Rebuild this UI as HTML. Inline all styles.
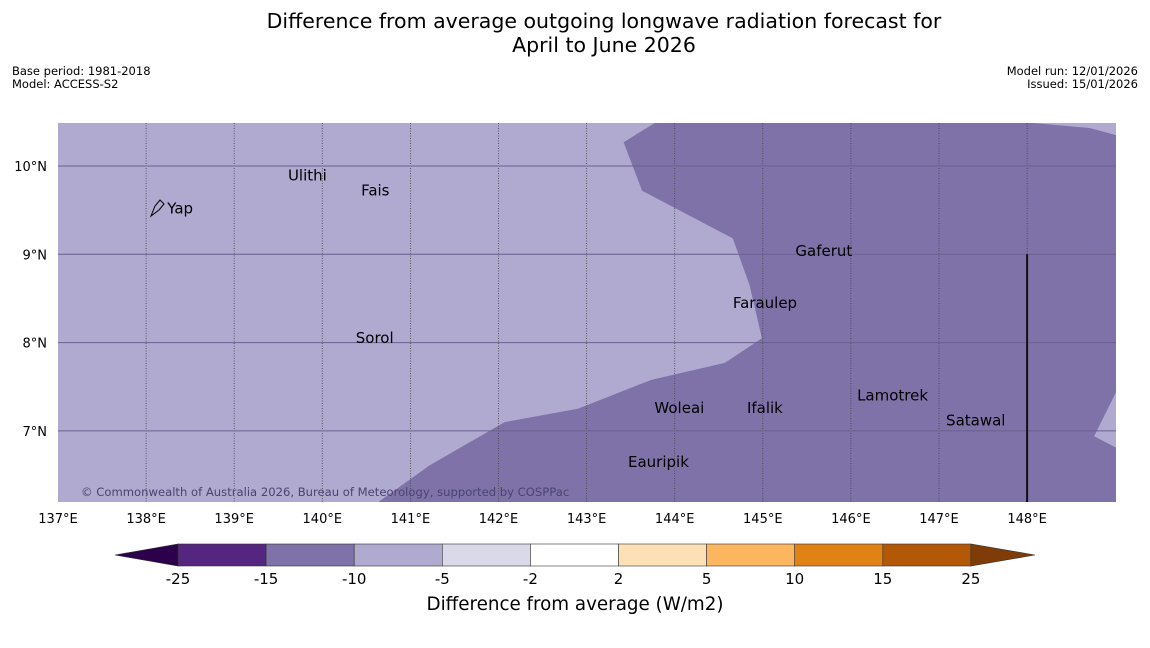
<!DOCTYPE html>
<html><head><meta charset="utf-8">
<style>
body{margin:0;background:#fff;font-family:"DejaVu Sans","Liberation Sans",sans-serif;}
svg text{font-family:"DejaVu Sans","Liberation Sans",sans-serif;}
</style></head>
<body>
<svg id="chart" width="1150" height="644" viewBox="0 0 1150 644" xmlns="http://www.w3.org/2000/svg">
<text x="604" y="28" font-size="20.5" text-anchor="middle">Difference from average outgoing longwave radiation forecast for</text>
<text x="604" y="52" font-size="20.5" text-anchor="middle">April to June 2026</text>
<text x="12" y="75" font-size="11.5">Base period: 1981-2018</text>
<text x="12" y="88" font-size="11.5">Model: ACCESS-S2</text>
<text x="1138" y="75" font-size="11.5" text-anchor="end">Model run: 12/01/2026</text>
<text x="1138" y="88" font-size="11.5" text-anchor="end">Issued: 15/01/2026</text>
<g id="map"></g>
<g id="cbar"></g>
<text x="575" y="610" font-size="18.3" text-anchor="middle">Difference from average (W/m2)</text>
</svg>
<script>
const lonTicks=[137,138,139,140,141,142,143,144,145,146,147,148];
const latTicks=[7,8,9,10];
const anomalyLon=[143.78,143.42,143.63,144.66,144.85,144.99,144.57,143.74,142.90,142.07,141.22,140.63,149.01,149.01,148.76,149.01,149.01,148.71,148.03];
const anomalyLat=[10.49,10.27,9.72,9.18,8.65,8.05,7.77,7.58,7.25,7.10,6.61,6.19,6.19,6.81,6.94,7.44,10.35,10.43,10.49];
const placeNames=["Yap","Ulithi","Fais","Gaferut","Faraulep","Sorol","Woleai","Ifalik","Lamotrek","Satawal","Eauripik"];
const placeLon=[138.24,139.61,140.44,145.37,144.66,140.38,143.77,144.82,146.07,147.08,143.47];
const placeLat=[9.52,9.89,9.72,9.04,8.45,8.05,7.26,7.26,7.40,7.12,6.65];
const cbBounds=["-25","-15","-10","-5","-2","2","5","10","15","25"];
const cbColors=["#55267f","#7f72a9","#b0a9d0","#d9d9ea","#ffffff","#fde0b6","#fcb660","#e08214","#b35806"];
const NS="http://www.w3.org/2000/svg";
const X0=58,X1=1116,Y0=123,Y1=502;
const xs=lon=>X0+(lon-137)*88.1;
const ys=lat=>166+(10-lat)*88.3;
function mk(tag,attrs,parent){const e=document.createElementNS(NS,tag);for(const k in attrs)e.setAttribute(k,attrs[k]);parent.appendChild(e);return e;}
const map=document.getElementById('map');
const bg=mk('rect',{x:X0,y:Y0,width:X1-X0,height:Y1-Y0,fill:'#b0a9d0'},map);


const cp=mk('clipPath',{id:'clip'},map);mk('rect',{x:X0,y:Y0,width:X1-X0,height:Y1-Y0},cp);
const pts=anomalyLon.map((l,i)=>xs(l).toFixed(1)+','+ys(anomalyLat[i]).toFixed(1)).join(' ');
const poly=mk('polygon',{points:pts,fill:'#7f72a9','clip-path':'url(#clip)'},map);


lonTicks.forEach(l=>{
 const x=xs(l);
 if(l>137){const g=mk('line',{x1:x,x2:x,y1:Y0,y2:Y1,stroke:'#444','stroke-width':0.8,'stroke-dasharray':'1,1.5'},map);
 
 }
 const t=mk('text',{x:x,y:523,'font-size':13,'text-anchor':'middle'},map);t.textContent=l+'°E';
 
 
});
latTicks.forEach(l=>{
 const y=ys(l);
 const g=mk('line',{x1:X0,x2:X1,y1:y,y2:y,stroke:'#6a6090','stroke-width':1},map);
 
 
 const t=mk('text',{x:47,y:y+5,'font-size':13,'text-anchor':'end'},map);t.textContent=l+'°N';
 
 
});
const dl=mk('line',{x1:xs(148),x2:xs(148),y1:ys(9),y2:Y1,stroke:'#111','stroke-width':2},map);


const yap=mk('path',{d:'M151,216 L155,206 L160,200 L164,204 L159,210 Z',fill:'none',stroke:'#000','stroke-width':1},map);


placeNames.forEach((n,i)=>{
 const t=mk('text',{x:xs(placeLon[i]),y:ys(placeLat[i])+5,'font-size':15},map);t.textContent=n;
 
 
});
const cr=mk('text',{x:81,y:496,'font-size':11.6,fill:'#4a4470'},map);
cr.textContent='© Commonwealth of Australia 2026, Bureau of Meteorology, supported by COSPPac';


const cb=document.getElementById('cbar');
const CB0=178,CBW=88.1,CT=544,CH=22;
cbColors.forEach((c,i)=>{
 const r=mk('rect',{x:CB0+i*CBW,y:CT,width:CBW,height:CH,fill:c,stroke:'#333','stroke-width':0.6},cb);
 
 
});
const lt=mk('polygon',{points:`${CB0},${CT} ${CB0},${CT+CH} 115,${CT+CH/2}`,fill:'#2d004b',stroke:'#333','stroke-width':0.6},cb);


const rt=mk('polygon',{points:`${CB0+9*CBW},${CT} ${CB0+9*CBW},${CT+CH} 1035,${CT+CH/2}`,fill:'#7f3b08',stroke:'#333','stroke-width':0.6},cb);


cbBounds.forEach((b,i)=>{
 const t=mk('text',{x:CB0+i*CBW,y:584,'font-size':15,'text-anchor':'middle'},cb);t.textContent=b;
 
 
});
</script>
</body></html>
